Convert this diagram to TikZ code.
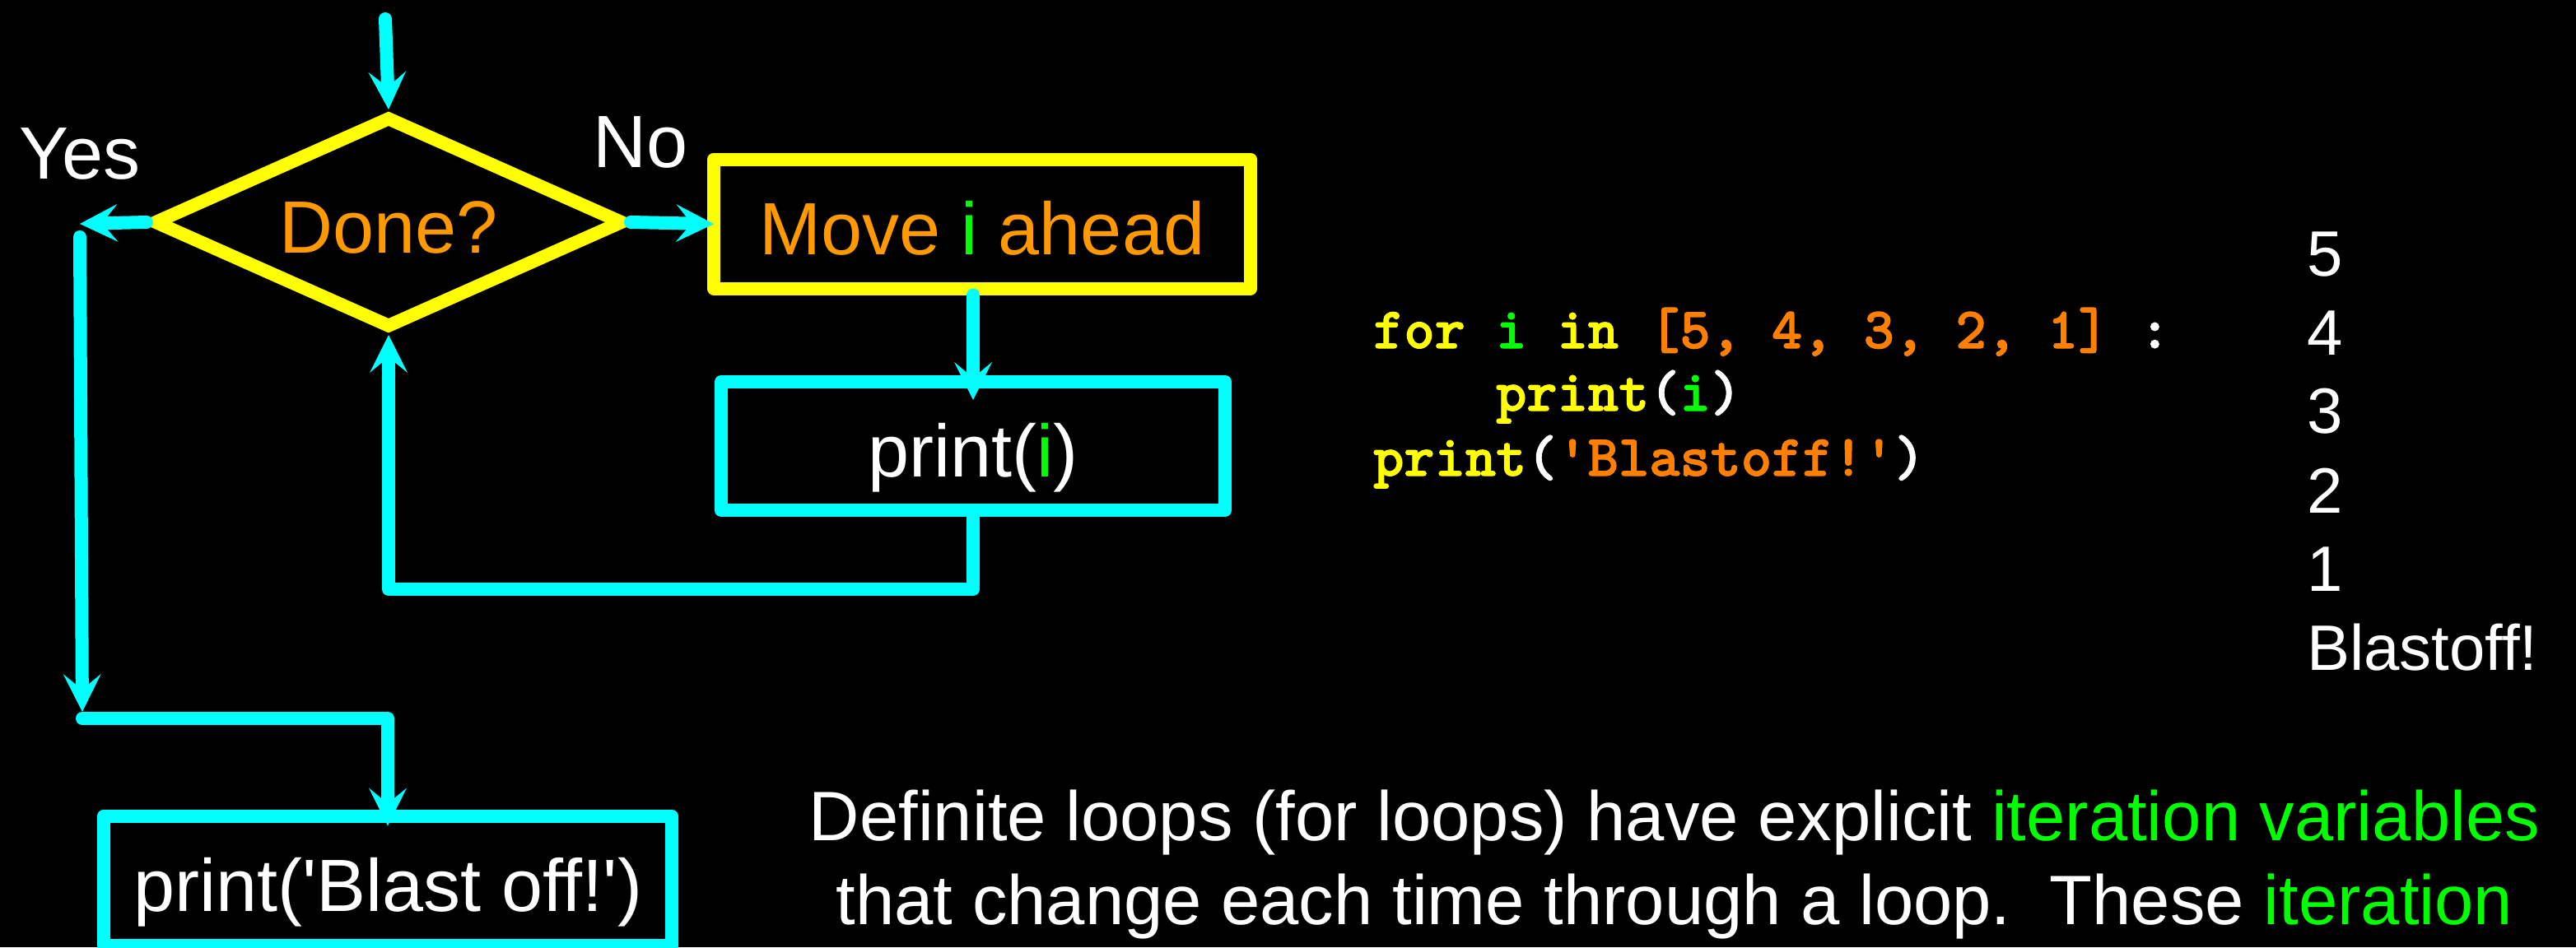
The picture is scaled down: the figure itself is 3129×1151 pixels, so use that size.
\documentclass[tikz,border=0pt]{standalone}
\usepackage{fontspec}
\setmainfont{Liberation Sans}
\newfontfamily\codefont{lmmonolt10-bold}[Extension=.otf, FakeBold=1.6]
\usepackage{tikz}
\usetikzlibrary{arrows.meta}
\usetikzlibrary{shapes.geometric}
\frenchspacing

\definecolor{flowcyan}{HTML}{00FFFF}
\definecolor{flowyellow}{HTML}{FFFF00}
\definecolor{flowtext}{HTML}{FF9900}
\definecolor{codeorange}{HTML}{FF8000}
\definecolor{itergreen}{HTML}{00FF00}

\tikzset{flow/.style = {draw=flowcyan, line width=16pt, line cap=round, line join=round,
                        -{Stealth[length=46pt, width=46pt, inset=19pt, line width=0pt]}},
         chart/.style = {font=\fontsize{90}{108}\selectfont, text height=75pt, text depth=0pt,
                         inner sep=0pt},
         decision/.style = {chart, diamond, aspect=2.22, draw=flowyellow, line width=16pt,
                            minimum width=572pt, minimum height=258pt, text=flowtext},
         update/.style = {chart, rectangle, draw=flowyellow, line width=16pt, line join=round,
                          text=flowtext},
         process/.style = {chart, rectangle, draw=flowcyan, line width=16pt, line join=round,
                           text=white},
         code/.style = {font=\codefont\fontsize{70.9}{80}\selectfont, inner sep=0pt,
                        text=white, anchor=base west},
         output/.style = {font=\fontsize{78}{94}\selectfont, inner sep=0pt, text=white,
                          anchor=base west},
         note/.style = {font=\fontsize{85}{102}\selectfont, inner sep=0pt, text=white,
                        anchor=base}}

\begin{document}
\begin{tikzpicture}[x=1pt, y=-1pt]
      \useasboundingbox (0, 0) rectangle (3129, 1151);
      \clip (0, 0) rectangle (3129, 1151);
      \fill [black] (0, 0) rectangle (3129, 1151);

      \node [decision] (done) at (472, 270) {Done?};
      \node [update, minimum width=652pt, minimum height=157pt] (move) at (1193, 272)
            {Move \textcolor{itergreen}{i} ahead};
      \node [process, minimum width=612pt, minimum height=156pt] (body) at (1182, 542)
            {print(\textcolor{itergreen}{i})};
      \node [process, minimum width=690pt, minimum height=157pt] (blast) at (471, 1070)
            {print(\textquotesingle Blast off!\textquotesingle)};
      \node [chart, text=white] (yeslabel) at (97, 180) {Yes};
      \node [chart, text=white] (nolabel) at (778, 166) {No};

      \coordinate (entry) at (468, 23);
      \coordinate (yes) at (97, 272);
      \coordinate (yesfoot) at (100, 873);
      \coordinate (loop) at (472, 716);

      \draw [flow] (entry) -- (done.north);
      \draw [flow] (done.west) -- (yes);
      \draw [flow, shorten >=8pt] ([yshift=-16pt]yes) -- (yesfoot);
      \draw [flow, shorten >=-20pt] (yesfoot) -| (blast.north);
      \draw [flow, shorten >=-8pt] (done.east) -- (move.west);
      \draw [flow, shorten >=-30pt] (move.south -| body.north) -- (body.north);
      \draw [flow] (body.south) |- (loop) -- (done.south);

      \node [code] (forline) at (1668, 423) {\textcolor{flowyellow}{for} \textcolor{itergreen}{i}
            \textcolor{flowyellow}{in} \textcolor{codeorange}{[5, 4, 3, 2, 1]} :};
      \node [code] (printline) at (1817, 499)
            {\textcolor{flowyellow}{print}(\textcolor{itergreen}{i})};
      \node [code] (blastline) at (1668, 578)
            {\textcolor{flowyellow}{print}(\textcolor{codeorange}{\textquotesingle Blastoff!\textquotesingle})};

      \foreach \n/\y in {5/335, 4/431, 3/526, 2/623, 1/718}
            \node [output] (out\n) at (2802, \y) {\n};
      \node [output] (outblast) at (2802, 814) {Blastoff!};

      \node [note] (note1) at (2034, 1021)
            {Definite loops (for loops) have explicit \textcolor{itergreen}{iteration variables}};
      \node [note] (note2) at (2034, 1123)
            {that change each time through a loop.\ \ These \textcolor{itergreen}{iteration}};
\end{tikzpicture}
\end{document}
